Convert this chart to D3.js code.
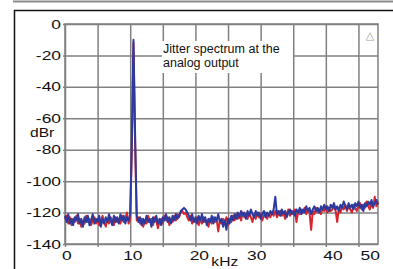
<!DOCTYPE html>
<html>
<head>
<meta charset="utf-8">
<script src="https://cdn.jsdelivr.net/npm/d3@7"></script>
<style>
  html, body { margin: 0; padding: 0; background: #fff; }
  svg { display: block; }
</style>
</head>
<body>
<div id="chart"></div>
<script>
// spectrum bins, 0.25 kHz apart, starting at 0 kHz
const freqStep = 0.25;

const blueLevels = [
  -122, -126, -121, -127, -124, -128, -123, -125, -121, -127, -124, -129, -123, -126, -122, -128,
  -125, -121, -127, -124, -126, -122, -129, -124, -127, -123, -126, -121, -125, -128, -122, -126,
  -123, -127, -121, -125, -122, -127, -123, -125, -121, -75, -10, -70, -122, -126, -123, -128,
  -124, -127, -122, -126, -124, -129, -123, -126, -122, -127, -124, -128, -123, -125, -121, -126,
  -123, -127, -122, -125, -121, -124, -122, -119, -118, -117, -118, -120, -122, -125, -121, -126,
  -123, -127, -122, -125, -121, -126, -123, -128, -124, -126, -122, -127, -123, -125, -121, -126,
  -124, -129, -125, -131, -124, -127, -122, -125, -121, -124, -120, -123, -119, -122, -120, -124,
  -119, -122, -118, -121, -123, -119, -122, -120, -124, -121, -119, -123, -120, -122, -119, -121,
  -118, -110, -121, -119, -122, -118, -121, -119, -123, -120, -118, -121, -119, -122, -118, -120,
  -117, -121, -118, -120, -116, -119, -117, -121, -118, -116, -119, -117, -120, -116, -118, -115,
  -118, -116, -119, -115, -117, -114, -118, -116, -119, -115, -117, -113, -116, -118, -114, -117,
  -115, -118, -114, -116, -113, -117, -115, -119, -114, -116, -113, -115, -112, -116, -114, -112,
  -115
];

const redLevels = [
  -124, -122, -127, -123, -128, -124, -126, -122, -127, -124, -129, -125, -127, -122, -126, -124,
  -128, -125, -123, -127, -124, -128, -125, -122, -126, -129, -124, -127, -123, -125, -128, -123,
  -126, -124, -127, -122, -126, -124, -120, -127, -124, -80, -12, -76, -125, -123, -127, -124,
  -129, -125, -127, -122, -126, -124, -128, -123, -125, -130, -126, -124, -127, -122, -125, -123,
  -128, -124, -126, -122, -125, -121, -123, -120, -119, -121, -120, -123, -125, -122, -127, -124,
  -126, -123, -128, -124, -127, -123, -126, -125, -129, -124, -127, -123, -126, -124, -132, -125,
  -127, -124, -126, -123, -128, -124, -126, -122, -125, -121, -124, -122, -125, -120, -123, -121,
  -124, -120, -123, -126, -121, -124, -120, -123, -121, -125, -122, -120, -124, -121, -123, -120,
  -122, -119, -123, -121, -119, -122, -120, -124, -121, -118, -122, -119, -121, -118, -126, -119,
  -121, -118, -120, -117, -121, -118, -120, -131, -119, -121, -117, -120, -118, -121, -117, -119,
  -116, -120, -117, -119, -118, -116, -119, -126, -117, -120, -116, -118, -115, -119, -116, -118,
  -120, -115, -117, -119, -116, -114, -118, -115, -117, -113, -116, -118, -114, -117, -110, -116,
  -113
];

const xGridValues = [0, 5, 10, 15, 20, 25, 30, 35, 40, 45];
const yTickValues = [0, -20, -40, -60, -80, -100, -120, -140];
const xTickLabels = ['0', '10', '20', '30', '40', '50'];
// label positions as printed on the original (they drift from the grid)
const xTickLabelPos = [0.3, 10.4, 20.6, 29.4, 41.1, 46.8];

const noteLines = ['Jitter spectrum at the', 'analog output'];

let
  width = 393,
  height = 269,
  pad = { top: 24, right: 15, bottom: 25, left: 65 },
  w = width - pad.left - pad.right,
  h = height - pad.top - pad.bottom,
  gridColor = '#808080',
  font = '"Liberation Sans", Arial, sans-serif',
  x, y, svg, g, line, blue, red;

blue = blueLevels.map(function (v, i) { return { key: i * freqStep, value: v }; });
red = redLevels.map(function (v, i) { return { key: i * freqStep, value: v }; });

x = d3.scaleLinear()
  .domain([0, 48])
  .range([0, w]);

y = d3.scaleLinear()
  .domain([-140, 0])
  .range([h, 0]);

svg = d3.select('#chart')
  .append('svg')
  .attr('width', width)
  .attr('height', height);

// outer frame
svg.append('line')
  .attr('x1', 13).attr('x2', width).attr('y1', 1.5).attr('y2', 1.5)
  .attr('stroke', '#8a8a8a').attr('stroke-width', 2);
svg.append('path')
  .attr('d', 'M' + width + ',10.5H14.5V' + height)
  .attr('fill', 'none')
  .attr('stroke', '#111')
  .attr('stroke-width', 1.5);

g = svg.append('g')
  .attr('transform', 'translate(' + pad.left + ',' + pad.top + ')');

// vertical grid
g.append('g')
  .attr('transform', 'translate(0,' + h + ')')
  .call(d3.axisBottom(x)
    .tickValues(xGridValues)
    .tickSize(h * -1)
    .tickSizeOuter(0)
    .tickFormat(''))
  .call(function (a) { a.select('.domain').remove(); })
  .selectAll('line')
  .attr('stroke', gridColor)
  .attr('stroke-width', 1.5)
  .attr('y1', 3);

// horizontal grid
g.append('g')
  .call(d3.axisLeft(y)
    .tickValues(yTickValues)
    .tickSize(w * -1)
    .tickSizeOuter(0)
    .tickFormat(''))
  .call(function (a) { a.select('.domain').remove(); })
  .selectAll('line')
  .attr('stroke', gridColor)
  .attr('stroke-width', 1.5)
  .attr('x1', -2);

// plot border
g.append('rect')
  .attr('width', w)
  .attr('height', h)
  .attr('fill', 'none')
  .attr('stroke', gridColor)
  .attr('stroke-width', 1.5);

// note box hides the grid behind it
g.append('rect')
  .attr('x', 97)
  .attr('y', 17)
  .attr('width', 131)
  .attr('height', 32)
  .attr('fill', '#fff');

g.selectAll('.note')
  .data(noteLines)
  .enter().append('text')
  .attr('class', 'note')
  .attr('x', 98)
  .attr('y', function (d, i) { return 29 + i * 14; })
  .attr('font-family', font)
  .attr('font-size', 12.5)
  .attr('fill', '#111')
  .text(String);

g.append('text')
  .attr('x', w - 8)
  .attr('y', 15)
  .attr('text-anchor', 'middle')
  .attr('font-family', '"DejaVu Sans", sans-serif')
  .attr('font-size', 11)
  .attr('fill', '#999')
  .text('\u25B3');

line = d3.line()
  .x(function (d) { return x(d.key); })
  .y(function (d) { return y(d.value); });

g.append('path')
  .datum(red)
  .attr('fill', 'none')
  .attr('stroke', '#d8262e')
  .attr('stroke-width', 2)
  .attr('stroke-linejoin', 'round')
  .attr('d', line);

g.append('path')
  .datum(blue)
  .attr('fill', 'none')
  .attr('stroke', '#2b3a9c')
  .attr('stroke-width', 2)
  .attr('stroke-linejoin', 'round')
  .attr('d', line);

// y labels, wide lettering
g.selectAll('.ylab')
  .data(yTickValues)
  .enter().append('text')
  .attr('class', 'ylab')
  .attr('transform', function (d) { return 'translate(-4,' + (y(d) + 4.5) + ') scale(1.45,1)'; })
  .attr('text-anchor', 'end')
  .attr('font-family', font)
  .attr('font-size', 12)
  .attr('fill', '#111')
  .text(String);

g.append('text')
  .attr('transform', 'translate(-35,' + 113 + ') scale(1.3,1)')
  .attr('font-family', font)
  .attr('font-size', 12)
  .attr('fill', '#111')
  .text('dBr');

// x labels
g.selectAll('.xlab')
  .data(xTickLabels)
  .enter().append('text')
  .attr('class', 'xlab')
  .attr('transform', function (d, i) { return 'translate(' + x(xTickLabelPos[i]) + ',' + (h + 16) + ') scale(1.45,1)'; })
  .attr('text-anchor', 'middle')
  .attr('font-family', font)
  .attr('font-size', 12)
  .attr('fill', '#111')
  .text(String);

g.append('text')
  .attr('transform', 'translate(' + x(24.5) + ',' + (h + 22) + ') scale(1.3,1)')
  .attr('text-anchor', 'middle')
  .attr('font-family', font)
  .attr('font-size', 12)
  .attr('fill', '#111')
  .text('kHz');
</script>
</body>
</html>
